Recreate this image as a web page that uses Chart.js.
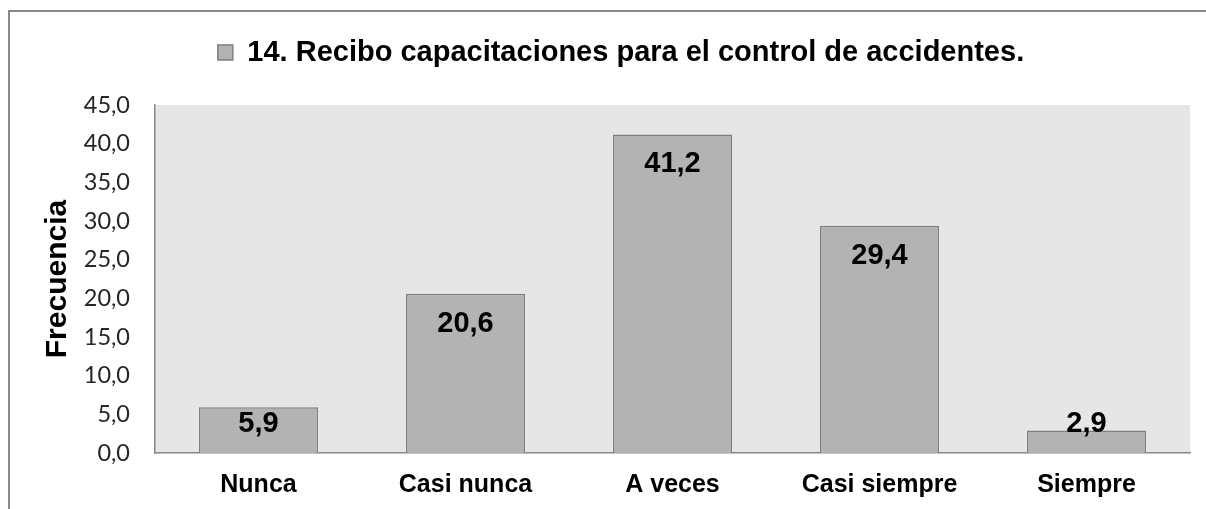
<!DOCTYPE html>
<html>
<head>
<meta charset="utf-8">
<script src="https://cdn.jsdelivr.net/npm/chart.js@4.4.1/dist/chart.umd.min.js"></script>
<style>
  body { margin: 0; background: #fff; }
  #wrap { position: relative; width: 1206px; height: 509px; }
  #frame { position: absolute; left: 8px; top: 10px; right: 0; bottom: 0;
           border-left: 2px solid #8a8a8a; border-top: 2px solid #8a8a8a; pointer-events: none; }
</style>
</head>
<body>
<div id="wrap">
  <canvas id="mycanvas" width="1206" height="509"></canvas>
  <div id="frame"></div>
</div>
<script>
var categorias = ['Nunca', 'Casi nunca', 'A veces', 'Casi siempre', 'Siempre'];
var frecuencia = [5.9, 20.6, 41.2, 29.4, 2.9];
var serie = '14. Recibo capacitaciones para el control de accidentes.';
var yMin = 0, yMax = 45, yPaso = 5;

function coma(v) {
  return Number(v).toFixed(1).replace('.', ',');
}

// gray plot area
var fondo = {
  id: 'fondo',
  beforeDraw: function(chart) {
    var a = chart.chartArea, ctx = chart.ctx;
    ctx.save();
    ctx.fillStyle = '#e6e6e6';
    ctx.fillRect(a.left, a.top, a.right - a.left, a.bottom - a.top);
    ctx.restore();
  }
};

// nudge the legend (used as the chart title) into place
var moverLeyenda = {
  id: 'moverLeyenda',
  afterLayout: function(chart) {
    var lg = chart.legend;
    lg.left += 26; lg.right += 26;
    lg.top -= 28; lg.bottom -= 28;
  }
};

// value labels near top of each bar
var etiquetas = {
  id: 'etiquetas',
  afterDatasetsDraw: function(chart) {
    var ctx = chart.ctx;
    var meta = chart.getDatasetMeta(0);
    ctx.save();
    ctx.font = 'bold 29px "Liberation Sans", Arial, sans-serif';
    ctx.fillStyle = '#000';
    ctx.textAlign = 'center';
    ctx.textBaseline = 'middle';
    meta.data.forEach(function(bar, i) {
      var cy = Math.min(bar.y + 30, bar.base - 29);
      ctx.fillText(coma(frecuencia[i]), bar.x, cy);
    });
    ctx.restore();
  }
};

var ctx = document.getElementById('mycanvas');
var barGraph = new Chart(ctx, {
  type: 'bar',
  data: {
    labels: categorias,
    datasets: [{
      label: serie,
      data: frecuencia,
      backgroundColor: '#b3b3b3',
      borderColor: '#7f7f7f',
      borderWidth: 1.5,
      barPercentage: 0.575,
      categoryPercentage: 1
    }]
  },
  options: {
    responsive: false,
    animation: false,
    layout: { padding: { top: 52, right: 16, bottom: 0, left: 0 } },
    plugins: {
      legend: {
        display: true,
        position: 'top',
        labels: {
          color: '#000',
          boxWidth: 15,
          boxHeight: 15,
          padding: 14,
          font: { family: '"Liberation Sans", Arial, sans-serif', size: 29, weight: 'bold' }
        }
      },
      tooltip: { enabled: false }
    },
    scales: {
      x: {
        grid: { display: false, drawTicks: false },
        border: { display: true, color: '#888', width: 1.5 },
        ticks: {
          color: '#000',
          padding: 17,
          font: { family: '"Liberation Sans", Arial, sans-serif', size: 25, weight: 'bold' }
        },
        afterFit: function(scale) { scale.height = 56; }
      },
      y: {
        min: yMin,
        max: yMax,
        grid: { display: false, drawTicks: false },
        border: { display: true, color: '#888', width: 1.5 },
        ticks: {
          stepSize: yPaso,
          color: '#262626',
          padding: 25,
          font: { family: 'Lato, sans-serif', size: 23.5 },
          callback: function(v) { return coma(v); }
        },
        title: {
          display: true,
          text: 'Frecuencia',
          color: '#000',
          padding: { top: 40, bottom: 0 },
          font: { family: '"Liberation Sans", Arial, sans-serif', size: 30, weight: 'bold' }
        },
        afterFit: function(scale) { scale.width = 155; }
      }
    }
  },
  plugins: [fondo, moverLeyenda, etiquetas]
});
</script>
</body>
</html>
